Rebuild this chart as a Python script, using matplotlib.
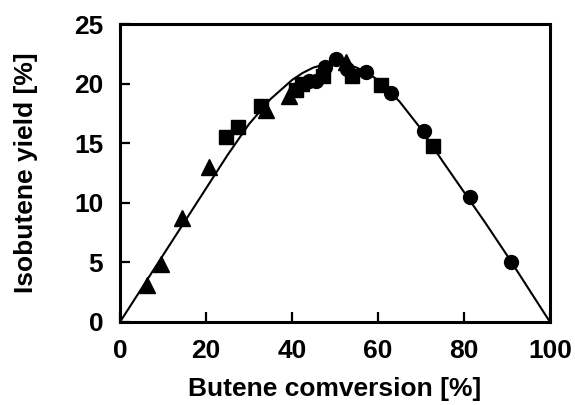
import numpy as np
import matplotlib
matplotlib.use("Agg")
import matplotlib.pyplot as plt

plt.rcParams['font.family'] = ['Liberation Sans', 'DejaVu Sans']
plt.rcParams['font.weight'] = 'bold'

# data
tri_x = [6.2, 9.6, 14.5, 20.8, 34.0, 39.4, 52.5]
tri_y = [3.1, 4.9, 8.7, 13.0, 17.8, 19.0, 21.8]

sq_x = [24.7, 27.4, 32.8, 40.9, 42.4, 47.1, 54.0, 60.6, 72.7]
sq_y = [15.5, 16.4, 18.1, 19.5, 20.0, 20.6, 20.6, 19.9, 14.8]

circ_x = [44.0, 45.5, 47.7, 50.2, 52.9, 57.1, 63.1, 70.8, 81.4, 91.0]
circ_y = [20.2, 20.2, 21.4, 22.1, 21.2, 21.0, 19.2, 16.0, 10.5, 5.06]

# model curve
curve_x = [0, 5, 10, 15, 20, 25, 30, 35, 40, 42.5, 45, 47.5, 50,
           52.5, 55, 57.5, 60, 65, 70, 75, 80, 85, 90, 95, 100]
curve_y = [0, 2.8, 5.6, 8.4, 11.2, 14.0, 16.6, 18.7, 20.3, 20.9, 21.35, 21.6, 21.7,
           21.6, 21.35, 20.9, 20.3, 18.5, 16.2, 13.5, 10.9, 8.3, 5.6, 2.8, 0]

fig = plt.figure(figsize=(5.75, 4.05), dpi=100)
ax = fig.add_axes([0.2087, 0.205, 0.7478, 0.7357])

ax.plot(curve_x, curve_y, color="black", lw=1.5, zorder=2)
ax.plot(tri_x, tri_y, linestyle="none", marker="^", ms=12, color="black", zorder=3)
ax.plot(sq_x, sq_y, linestyle="none", marker="s", ms=9.5, color="black", zorder=3)
ax.plot(circ_x, circ_y, linestyle="none", marker="o", ms=10, color="black", zorder=3)

ax.set_xlim(0, 100)
ax.set_ylim(0, 25)
ax.set_xticks([0, 20, 40, 60, 80, 100])
ax.set_yticks([0, 5, 10, 15, 20, 25])
ax.tick_params(direction="in", length=7, width=1.6, labelsize=19)
ax.tick_params(axis="x", pad=12)
ax.tick_params(axis="y", pad=12)
for s in ax.spines.values():
    s.set_linewidth(2.2)

ax.set_xlabel("Butene comversion [%]", fontsize=19, fontweight="bold", labelpad=10)
ax.set_ylabel("Isobutene yield [%]", fontsize=19, fontweight="bold", labelpad=26)

fig.savefig("out.png", dpi=100)
